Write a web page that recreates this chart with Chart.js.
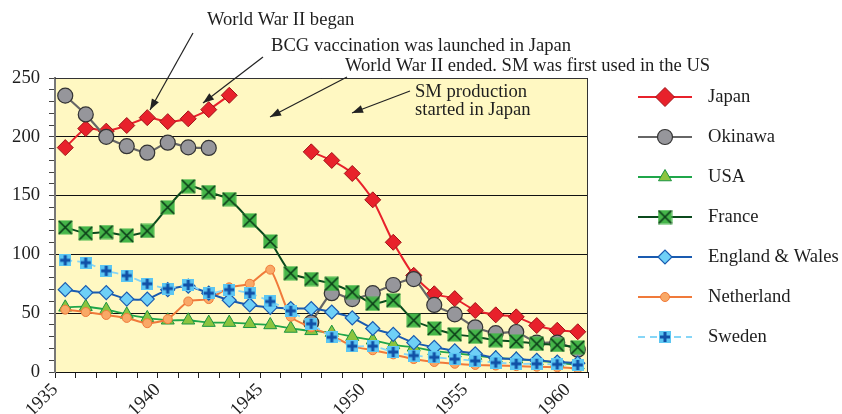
<!DOCTYPE html>
<html><head><meta charset="utf-8">
<script src="https://cdn.jsdelivr.net/npm/chart.js@4/dist/chart.umd.min.js"></script>
<style>html,body{margin:0;padding:0;background:#fff}canvas{display:block}</style>
</head><body>
<canvas id="c" width="842" height="414"></canvas>
<script>
const years = [1935,1936,1937,1938,1939,1940,1941,1942,1943,1944,1945,1946,1947,1948,1949,1950,1951,1952,1953,1954,1955,1956,1957,1958,1959,1960];
const japan      = [190.8,207.0,204.8,209.6,216.3,212.9,215.3,223.1,235.3,null,null,null,187.2,179.9,168.8,146.4,110.3,82.2,66.5,62.4,52.3,48.6,46.9,39.5,35.5,34.2];
const okinawa    = [235,219,200,192,186.5,195,191,190.5,null,null,null,null,42,67,62,67,74,79,57,49,38,33,34,25,25,19];
const usa        = [55,55.5,53,49,46,44,44,42,42,41,40,37,35,33.5,30,27,23,21,18,16,14,12,11,9.5,8,6];
const france     = [123,118,119,116,120,140,158,153,147,129,111,84,79,75,68,58,61,44,37,32,30,27,26,24,23,21];
const england    = [70,67.5,67.5,62,62,70,73,67,61,57,55,54,54,51,46,37,32,25,21,18,15.5,12,11,10,8.5,7.5];
const netherland = [53,51,48.5,46,41.5,45,60,62,72,75,87,47,38,31,22,18.5,15,11,8.5,7,6,5.5,5,4.5,4,3];
const sweden     = [95,93,86,82,75,71,74,67,70,67,60,52,41,29.5,22,22,17,14,12.5,11,9.5,8,7,7,6.5,6];
const seriesNames = ['Japan','Okinawa','USA','France','England & Wales','Netherland','Sweden'];
const yTickLabels = [0,50,100,150,200,250];
const xTickLabels = [1935,1940,1945,1950,1955,1960];
const notes = [
  {text:'World War II began'},
  {text:'BCG vaccination was launched in Japan'},
  {text:'World War II ended. SM was first used in the US'},
  {text:'SM production'},
  {text:'started in Japan'}
];

// mid-year placement of each annual value
function pts(arr){ return years.map((y,i)=>({x:y+0.5, y:arr[i]})); }

function franceMarker(){
  const c=document.createElement('canvas'); c.width=15; c.height=15;
  const g=c.getContext('2d');
  g.fillStyle='#45b649'; g.fillRect(0.5,0.5,14,14);
  g.strokeStyle='#0b3a17'; g.lineWidth=1.6;
  g.beginPath(); g.moveTo(1,1); g.lineTo(14,14); g.moveTo(14,1); g.lineTo(1,14); g.stroke();
  return c;
}
function swedenMarker(){
  const c=document.createElement('canvas'); c.width=12; c.height=12;
  const g=c.getContext('2d');
  g.fillStyle='#5cc6f2'; g.fillRect(0,0,12,12);
  g.fillStyle='#1150a6'; g.fillRect(4.5,1,3,10); g.fillRect(1,4.5,10,3);
  return c;
}
const fM=franceMarker(), sM=swedenMarker();

const FONT='"Liberation Serif","Times New Roman",serif';
const FS=18.6;

const datasets=[
  {label:seriesNames[0], data:pts(japan), borderColor:'#e8212b', backgroundColor:'#e8212b', pointBorderColor:'#a01218', pointBorderWidth:1, borderWidth:2, pointStyle:'rectRot', pointRadius:8, order:7},
  {label:seriesNames[1], data:pts(okinawa), borderColor:'#666666', backgroundColor:'#96969b', pointBorderColor:'#333333', pointBorderWidth:1.2, borderWidth:2.2, pointStyle:'circle', pointRadius:7.5, order:6},
  {label:seriesNames[3], data:pts(france), borderColor:'#0b4a1d', backgroundColor:'#45b649', borderWidth:2, pointStyle:fM, pointRadius:7, order:5},
  {label:seriesNames[2], data:pts(usa), borderColor:'#1fa64a', backgroundColor:'#8cc43f', pointBorderColor:'#1a9440', pointBorderWidth:1, borderWidth:1.8, pointStyle:'triangle', pointRadius:7.5, order:4},
  {label:seriesNames[5], data:pts(netherland), borderColor:'#f07a3a', backgroundColor:'#f9a866', pointBorderColor:'#f07a3a', pointBorderWidth:1, borderWidth:2, pointStyle:'circle', pointRadius:4.5, order:3},
  {label:seriesNames[4], data:pts(england), borderColor:'#1a5bb0', backgroundColor:'#6fd0f7', pointBorderColor:'#1a5bb0', pointBorderWidth:1.2, borderWidth:2, pointStyle:'rectRot', pointRadius:7, order:2},
  {label:seriesNames[6], data:pts(sweden), borderColor:'#86d6f7', backgroundColor:'#5cc6f2', borderWidth:1.8, borderDash:[7,5], pointStyle:sM, pointRadius:6, order:1}
];

const bgPlugin={id:'bg', beforeDraw(ch){
  const g=ch.ctx, a=ch.chartArea;
  g.save(); g.fillStyle='#fff'; g.fillRect(0,0,ch.width,ch.height);
  g.fillStyle='#fff8c2'; g.fillRect(a.left,a.top,a.right-a.left,a.bottom-a.top); g.restore();
}, afterDatasetsDraw(ch){
  const g=ch.ctx, a=ch.chartArea;
  g.save(); g.strokeStyle='#333'; g.lineWidth=1;
  g.beginPath(); g.moveTo(a.left,a.top+0.5); g.lineTo(a.right-0.5,a.top+0.5); g.lineTo(a.right-0.5,a.bottom); g.stroke();
  g.restore();
}};

function arrow(g,x1,y1,x2,y2){
  g.beginPath(); g.moveTo(x1,y1); g.lineTo(x2,y2); g.stroke();
  const ang=Math.atan2(y2-y1,x2-x1), L=11, W=4;
  g.beginPath(); g.moveTo(x2,y2);
  g.lineTo(x2-L*Math.cos(ang)+W*Math.sin(ang), y2-L*Math.sin(ang)-W*Math.cos(ang));
  g.lineTo(x2-L*Math.cos(ang)-W*Math.sin(ang), y2-L*Math.sin(ang)+W*Math.cos(ang));
  g.closePath(); g.fill();
}

const annotPlugin={id:'annot', afterDraw(ch){
  const g=ch.ctx;
  g.save();
  g.font=FS+'px '+FONT; g.fillStyle='#1e1e1e'; g.textBaseline='middle'; g.textAlign='left';
  const pos=[[207,20],[271,46],[345,66],[415,92],[415,110]];
  notes.forEach((n,i)=>g.fillText(n.text,pos[i][0],pos[i][1]));
  g.strokeStyle='#222'; g.fillStyle='#222'; g.lineWidth=1.2;
  arrow(g,193,33,150,110);
  arrow(g,263,57,203,103);
  arrow(g,347,77,270,117);
  arrow(g,410,91,352,113);
  // legend
  const order=[0,1,3,2,5,4,6];
  order.forEach((di,k)=>{
    const ds=ch.data.datasets[di]; const y=97+k*40;
    g.save();
    g.strokeStyle=ds.borderColor; g.lineWidth=ds.borderWidth; g.setLineDash(ds.borderDash||[]);
    g.beginPath(); g.moveTo(638,y); g.lineTo(692,y); g.stroke(); g.setLineDash([]);
    const opts={pointStyle:ds.pointStyle, radius:ds.pointRadius+(di===0?1.5:0), rotation:0, borderWidth:ds.pointBorderWidth||0};
    g.fillStyle=ds.backgroundColor; g.strokeStyle=ds.pointBorderColor||ds.borderColor; g.lineWidth=ds.pointBorderWidth||1;
    Chart.helpers.drawPoint(g,opts,665,y);
    g.restore();
    g.font=FS+'px '+FONT; g.fillStyle='#1e1e1e'; g.textBaseline='middle'; g.textAlign='left';
    g.fillText(ds.label,708,y);
  });
  g.restore();
}};

new Chart(document.getElementById('c'),{
  type:'line',
  data:{datasets},
  options:{
    responsive:false, animation:false, devicePixelRatio:1,
    layout:{padding:{top:78,right:254,left:0,bottom:0}},
    elements:{line:{tension:0.2}},
    spanGaps:false,
    plugins:{legend:{display:false}, tooltip:{enabled:false}},
    scales:{
      x:{type:'linear', min:1935, max:1961,
        afterFit(s){s.height=42;},
        ticks:{stepSize:1, autoSkip:false, maxRotation:45, minRotation:45, padding:1,
          callback:v=> xTickLabels.includes(v)? String(v):'',
          font:{family:FONT,size:FS}, color:'#1e1e1e'},
        grid:{drawOnChartArea:false, tickLength:6, color:'#222'},
        border:{color:'#111', width:1}},
      y:{min:0, max:250,
        afterFit(s){s.width=55;},
        ticks:{stepSize:10, autoSkip:false, padding:9,
          callback:v=> yTickLabels.includes(v)? String(v):'',
          font:{family:FONT,size:FS}, color:'#1e1e1e'},
        grid:{color:c=> (c.tick && c.tick.value%50===0)? '#111':'rgba(0,0,0,0)', tickColor:'#444', tickLength:6, lineWidth:1},
        border:{color:'#777', width:2}}
    }
  },
  plugins:[bgPlugin, annotPlugin]
});
</script>
</body></html>
